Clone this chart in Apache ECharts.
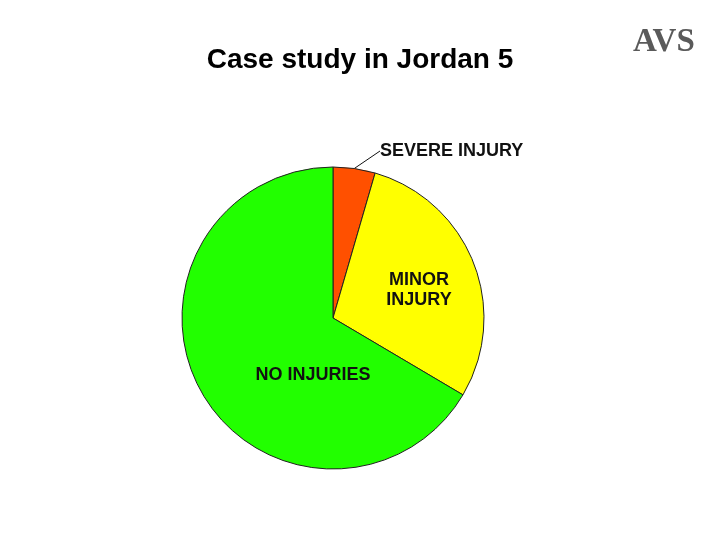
<!DOCTYPE html>
<html>
<head>
<meta charset="utf-8">
<script src="https://cdn.jsdelivr.net/npm/echarts@6/dist/echarts.min.js"></script>
<style>
html,body{margin:0;padding:0;background:#fff;}
#chart{width:720px;height:540px;}
</style>
</head>
<body>
<div id="chart"></div>
<script>
var categories = ['SEVERE INJURY', 'MINOR\nINJURY', 'NO INJURIES'];
var values = [4.5, 29, 66.5];
var colors = ['#FF5000', '#FFFF00', '#22FF00'];
var titleText = 'Case study in Jordan 5';
var logoText = 'AVS';

var labelSpots = [
  {x: 380, y: 151, align: 'left'},
  {x: 419, y: 290, align: 'center'},
  {x: 313, y: 375, align: 'center'}
];

var chart = echarts.init(document.getElementById('chart'));
chart.setOption({
  backgroundColor: '#fff',
  animation: false,
  title: {
    text: titleText,
    left: 355,
    top: 41,
    textAlign: 'center',
    textStyle: {fontFamily: 'Liberation Sans, Arial', fontSize: 28, fontWeight: 'bold', color: '#000'}
  },
  graphic: [{
    type: 'text',
    left: 633,
    top: 26,
    style: {
      text: logoText,
      font: 'bold 33px "Liberation Serif", serif',
      fill: '#5a5a5a'
    }
  }],
  series: [{
    type: 'pie',
    center: [333, 318],
    radius: 151,
    startAngle: 90,
    clockwise: true,
    avoidLabelOverlap: false,
    itemStyle: {borderColor: '#222', borderWidth: 1},
    label: {
      fontFamily: 'Liberation Sans, Arial',
      fontSize: 18,
      fontWeight: 'bold',
      color: '#111',
      lineHeight: 20,
      formatter: '{b}'
    },
    labelLayout: function (p) {
      var s = labelSpots[p.dataIndex];
      return {x: s.x, y: s.y, align: s.align, verticalAlign: 'middle'};
    },
    emphasis: {disabled: true},
    data: categories.map(function (c, i) {
      var d = {name: c, value: values[i], itemStyle: {color: colors[i]}};
      if (i === 0) {
        d.label = {position: 'outside'};
        d.labelLine = {show: true, length: 8, length2: 0, lineStyle: {color: '#111', width: 1}};
      } else {
        d.label = {position: 'inside'};
        d.labelLine = {show: false};
      }
      return d;
    })
  }]
});
</script>
</body>
</html>
